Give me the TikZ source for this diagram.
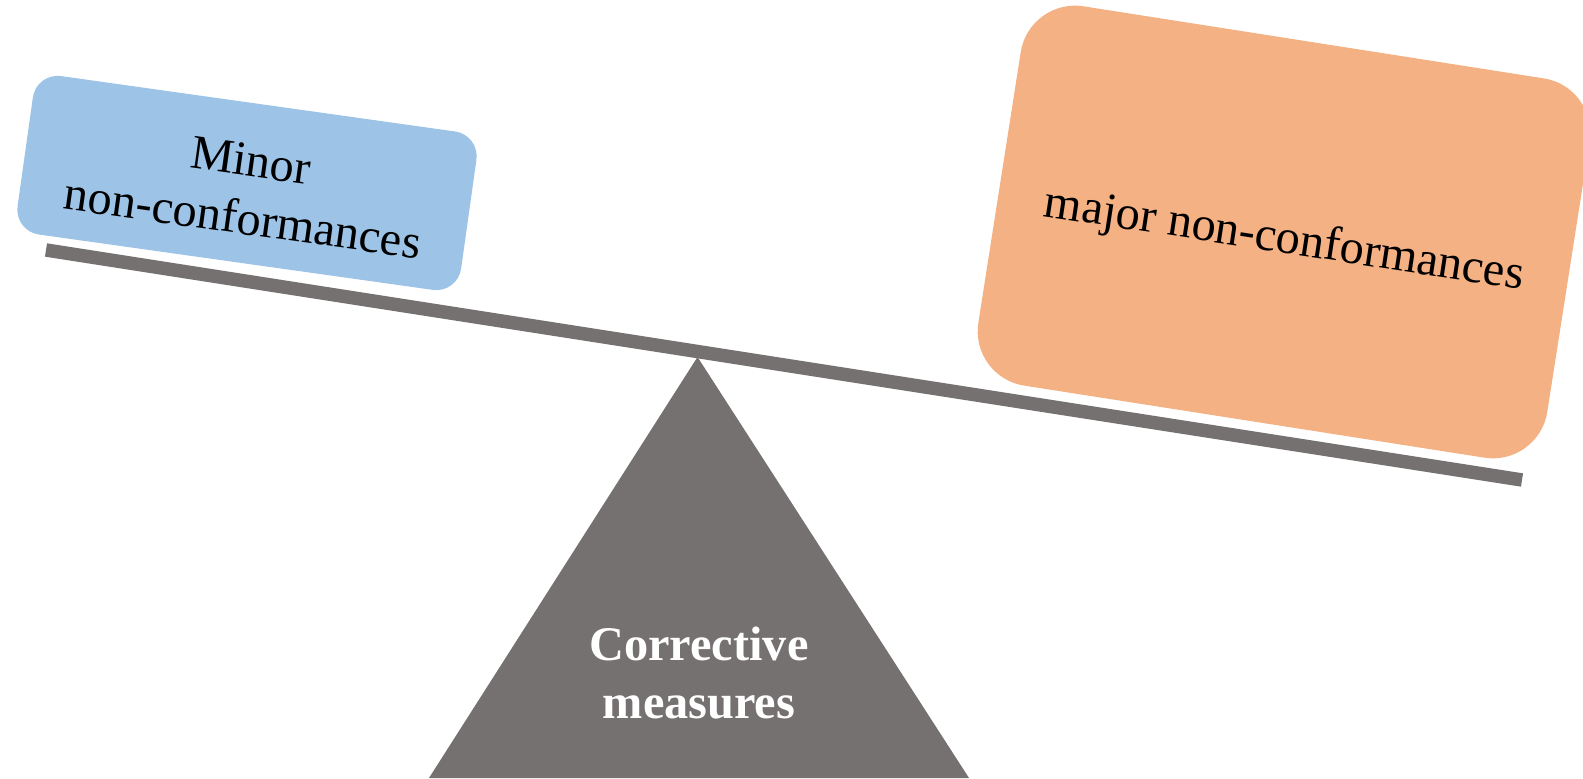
\documentclass[tikz,border=0pt]{standalone}
\usepackage{fontspec}
\setmainfont{Liberation Serif}
\definecolor{minorblue}{HTML}{9DC3E6}
\definecolor{majororange}{HTML}{F4B183}
\definecolor{beamgray}{HTML}{767171}
\begin{document}
\begin{tikzpicture}[x=0.02cm, y=0.02cm,
  pan/.style={fill, inner sep=0pt},
  panlabel/.style={align=center, text=black, font=\fontsize{27.5}{33}\selectfont}]
  \tikzset{lightpan/.style={pan, fill=minorblue, rounded corners=0.5cm}}
  \tikzset{heavypan/.style={pan, fill=majororange, rounded corners=1.1cm}}
  \useasboundingbox (0,0) rectangle (1583,778);
  \clip (0,0) rectangle (1583,778);
  % beam and fulcrum
  \coordinate (bl) at (46,528);
  \coordinate (br) at (1522,298);
  \draw[beamgray, line width=0.27cm] (bl) -- (br);
  \coordinate (apex) at (697.5,421);
  \coordinate (baseL) at (429,0);
  \coordinate (baseR) at (969,0);
  \fill[beamgray] (apex) -- (baseL) -- (baseR) -- cycle;
  \node[text=white, align=center, font=\fontsize{27.5}{33}\selectfont\bfseries]
    (fulcrum) at (699,105) {Corrective\\measures};
  % pans
  \node[lightpan, rotate=-8, minimum width=8.96cm, minimum height=3.2cm]
    (minor) at (247,595) {};
  \node[panlabel, rotate=-8] (minortext) at ([yshift=-0.13cm]minor.center)
    {Minor\\non-conformances};
  \node[heavypan, rotate=-8.9, minimum width=11.52cm, minimum height=7.68cm]
    (major) at (1284,546) {};
  \node[panlabel, rotate=-8.7] (majortext) at ([yshift=-0.18cm]major.center)
    {major non-conformances};
\end{tikzpicture}
\end{document}
